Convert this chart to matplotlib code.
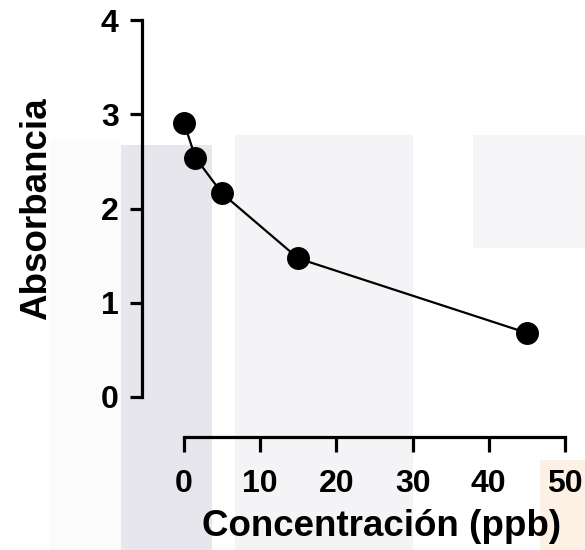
import matplotlib
matplotlib.use("Agg")
import matplotlib.pyplot as plt
from matplotlib.patches import Rectangle

# Data
concentracion = [0, 1.5, 5, 15, 45]
absorbancia = [2.91, 2.54, 2.16, 1.47, 0.68]
x_ticks = [0, 10, 20, 30, 40, 50]
y_ticks = [0, 1, 2, 3, 4]

plt.rcParams['font.family'] = ['Liberation Sans', 'DejaVu Sans']
plt.rcParams['font.weight'] = 'bold'

W, H = 585, 550
fig = plt.figure(figsize=(W / 100, H / 100), dpi=100)

# faint watermark shapes in the background (pixel boxes -> figure coords)
def bg_box(x0, y0, x1, y1, color):
    fig.add_artist(Rectangle((x0 / W, 1 - y1 / H), (x1 - x0) / W, (y1 - y0) / H,
                             transform=fig.transFigure, facecolor=color,
                             edgecolor='none', zorder=-10))

bg_box(50, 140, 121, 550, '#fbfbfc')
bg_box(121, 145, 212, 550, '#e6e6ec')
bg_box(235, 135, 413, 550, '#f4f4f7')
bg_box(473, 135, 585, 248, '#f5f5f7')
bg_box(540, 460, 585, 550, '#fdf0e4')

ax = fig.add_axes([184 / W, 1 - 397 / H, (565 - 184) / W, (397 - 20) / H])
ax.set_facecolor('none')

ax.plot(concentracion, absorbancia, color='black', linewidth=1.6,
        marker='o', markersize=15.5, clip_on=False, zorder=3)

ax.set_xlim(0, 50)
ax.set_ylim(0, 4)
ax.set_xticks(x_ticks)
ax.set_yticks(y_ticks)

for side in ['top', 'right']:
    ax.spines[side].set_visible(False)
ax.spines['left'].set_position(('outward', 30))
ax.spines['bottom'].set_position(('outward', 29))
for side in ['left', 'bottom']:
    ax.spines[side].set_linewidth(2.3)

ax.tick_params(axis='y', length=9, width=2.3, pad=8, labelsize=23)
ax.tick_params(axis='x', length=11, width=2.3, pad=12, labelsize=23)
for lbl in ax.get_xticklabels() + ax.get_yticklabels():
    lbl.set_fontweight('bold')

ax.set_ylabel('Absorbancia', fontsize=26.5, fontweight='bold', labelpad=34)
# x label placed directly under the offset axis
fig.text(382 / W, 1 - 536 / H, 'Concentración (ppb)', fontsize=26.5,
         fontweight='bold', ha='center', va='baseline')

fig.savefig('out.png', dpi=100)
